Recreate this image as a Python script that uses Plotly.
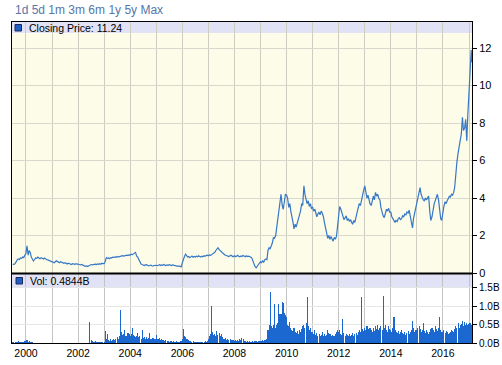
import plotly.graph_objects as go
import pandas as pd

# ---- data: semi-monthly closing prices (1st / 15th of each month) ----
price_1999 = [0.48, 0.45, 0.50, 0.62, 0.70, 0.75, 0.72, 0.80, 0.78, 0.85, 0.82, 0.95]
price_2000 = [1.05, 1.45, 0.95, 1.20, 1.10, 0.85, 0.70, 0.64, 0.72, 0.80, 0.78, 0.85, 0.80, 0.76, 0.82, 0.78, 0.75, 0.80, 0.74, 0.72, 0.70, 0.68, 0.66, 0.62]
price_2001 = [0.62, 0.58, 0.55, 0.60, 0.65, 0.62, 0.58, 0.55, 0.60, 0.57, 0.55, 0.52, 0.55, 0.50, 0.48, 0.52, 0.50, 0.47, 0.45, 0.50, 0.48, 0.46, 0.50, 0.47]
price_2002 = [0.48, 0.45, 0.43, 0.46, 0.42, 0.40, 0.38, 0.36, 0.38, 0.35, 0.40, 0.42, 0.45, 0.43, 0.46, 0.44, 0.47, 0.45, 0.48, 0.46, 0.50, 0.47, 0.52, 0.50]
price_2003 = [0.50, 0.62, 0.82, 0.78, 0.80, 0.76, 0.82, 0.80, 0.85, 0.83, 0.86, 0.84, 0.88, 0.85, 0.87, 0.90, 0.88, 0.92, 0.90, 0.93, 0.92, 0.95, 0.93, 0.97]
price_2004 = [0.96, 1.00, 0.98, 1.02, 1.05, 1.10, 0.90, 0.85, 0.72, 0.58, 0.48, 0.45, 0.42, 0.40, 0.43, 0.44, 0.41, 0.38, 0.40, 0.42, 0.39, 0.37, 0.40, 0.42]
price_2005 = [0.41, 0.39, 0.42, 0.44, 0.40, 0.43, 0.41, 0.45, 0.42, 0.40, 0.43, 0.41, 0.44, 0.42, 0.40, 0.43, 0.41, 0.38, 0.40, 0.37, 0.35, 0.38, 0.34, 0.32]
price_2006 = [0.55, 0.78, 0.90, 1.00, 0.92, 0.85, 0.88, 0.82, 0.86, 0.90, 0.84, 0.88, 0.85, 0.90, 0.87, 0.92, 0.88, 0.85, 0.90, 0.87, 0.92, 0.89, 0.93, 0.95]
price_2007 = [0.92, 0.96, 0.94, 1.00, 1.02, 1.06, 1.10, 1.20, 1.30, 1.35, 1.25, 1.20, 1.15, 1.05, 1.00, 0.98, 0.95, 0.92, 0.93, 0.88, 0.92, 0.95, 0.90, 0.87]
price_2008 = [0.92, 0.88, 0.90, 0.94, 0.89, 0.86, 0.91, 0.88, 0.93, 0.90, 0.87, 0.92, 0.88, 0.90, 0.88, 0.85, 0.80, 0.62, 0.45, 0.35, 0.28, 0.38, 0.45, 0.52]
price_2009 = [0.60, 0.55, 0.65, 0.58, 0.70, 0.75, 0.72, 1.20, 1.35, 1.30, 1.45, 1.60, 1.90, 1.85, 2.00, 2.40, 2.90, 3.30, 4.00, 4.20, 3.60, 3.40, 3.80, 4.20]
price_2010 = [4.15, 4.00, 3.50, 3.70, 3.30, 2.90, 2.70, 2.35, 2.60, 2.45, 2.75, 2.95, 3.10, 3.30, 3.70, 3.60, 4.65, 4.20, 3.90, 3.70, 3.85, 3.55, 3.70, 3.45]
price_2011 = [3.50, 3.30, 3.40, 3.20, 3.00, 3.15, 3.25, 3.10, 3.30, 3.20, 3.00, 2.70, 2.40, 2.10, 1.85, 2.00, 1.80, 1.95, 1.75, 1.70, 1.90, 1.80, 1.95, 2.40]
price_2012 = [2.90, 3.55, 3.40, 3.20, 3.00, 2.85, 2.95, 3.05, 2.80, 2.90, 2.75, 2.85, 2.70, 2.60, 2.80, 2.70, 3.00, 3.20, 3.50, 3.70, 3.60, 3.90, 4.20, 4.40]
price_2013 = [4.65, 4.30, 4.00, 4.15, 3.90, 3.70, 3.60, 3.85, 4.10, 3.90, 4.30, 4.10, 4.20, 4.00, 3.90, 3.50, 3.20, 3.05, 2.95, 3.20, 3.40, 3.30, 3.45, 3.25]
price_2014 = [3.25, 3.00, 2.85, 2.75, 2.70, 2.80, 2.75, 2.90, 2.95, 2.85, 2.90, 3.05, 3.00, 3.15, 3.10, 3.25, 3.20, 3.35, 3.00, 2.80, 2.40, 2.90, 3.20, 3.40]
price_2015 = [3.60, 3.90, 4.30, 4.55, 4.20, 4.00, 3.90, 3.85, 4.00, 3.90, 4.05, 4.10, 3.30, 2.80, 3.00, 3.40, 3.70, 3.85, 4.00, 4.20, 3.90, 3.40, 2.90, 2.80]
price_2016 = [3.30, 3.55, 3.80, 3.70, 3.85, 4.00, 4.10, 4.05, 4.20, 4.15, 4.30, 4.60, 5.45, 5.90, 6.40, 6.85, 7.10, 7.40, 8.30, 7.60, 7.75, 8.20, 7.05, 8.40]
price_2017 = [9.60, 10.50, 11.90, 11.24]

# ---- data: volume (billions), same dates ----
vol_1999 = [0.03, 0.02, 0.04, 0.03, 0.02, 0.05, 0.03, 0.04, 0.02, 0.03, 0.04, 0.06]
vol_2000 = [0.05, 0.08, 0.04, 0.05, 0.03, 0.04, 0.02, 0.01, 0.01, 0.0, 0.01, 0.0, 0.01, 0.0, 0.0, 0.01, 0.0, 0.0, 0.01, 0.0, 0.0, 0.0, 0.01, 0.0]
vol_2001 = [0.0, 0.01, 0.0, 0.0, 0.0, 0.01, 0.0, 0.0, 0.0, 0.0, 0.01, 0.0, 0.0, 0.0, 0.0, 0.0, 0.0, 0.01, 0.0, 0.0, 0.0, 0.0, 0.0, 0.0]
vol_2002 = [0.0, 0.0, 0.0, 0.0, 0.0, 0.0, 0.0, 0.0, 0.0, 0.0, 0.01, 0.58, 0.08, 0.05, 0.04, 0.03, 0.05, 0.03, 0.04, 0.02, 0.03, 0.04, 0.03, 0.02]
vol_2003 = [0.03, 0.34, 0.10, 0.25, 0.08, 0.06, 0.10, 0.05, 0.08, 0.12, 0.09, 0.10, 0.15, 0.12, 0.18, 0.90, 0.30, 0.22, 0.25, 0.35, 0.20, 0.18, 0.28, 0.25]
vol_2004 = [0.20, 0.25, 0.40, 0.22, 0.18, 0.15, 0.20, 0.27, 0.15, 0.18, 0.12, 0.35, 0.14, 0.16, 0.12, 0.15, 0.10, 0.13, 0.27, 0.12, 0.10, 0.14, 0.12, 0.10]
vol_2005 = [0.22, 0.12, 0.10, 0.13, 0.08, 0.10, 0.07, 0.09, 0.06, 0.08, 0.05, 0.06, 0.04, 0.05, 0.06, 0.04, 0.05, 0.03, 0.04, 0.05, 0.03, 0.04, 0.05, 0.06]
vol_2006 = [0.10, 0.38, 0.20, 0.15, 0.12, 0.10, 0.08, 0.06, 0.05, 0.04, 0.05, 0.03, 0.04, 0.03, 0.03, 0.04, 0.03, 0.02, 0.03, 0.04, 0.03, 0.05, 0.04, 0.05]
vol_2007 = [0.10, 0.18, 0.25, 1.02, 0.30, 0.22, 0.25, 0.20, 0.32, 0.22, 0.28, 0.18, 0.24, 0.16, 0.12, 0.10, 0.14, 0.09, 0.12, 0.08, 0.10, 0.07, 0.09, 0.08]
vol_2008 = [0.06, 0.08, 0.05, 0.07, 0.06, 0.12, 0.08, 0.14, 0.10, 0.06, 0.05, 0.04, 0.05, 0.04, 0.06, 0.04, 0.03, 0.05, 0.04, 0.06, 0.05, 0.04, 0.06, 0.05]
vol_2009 = [0.06, 0.05, 0.07, 0.06, 0.08, 0.07, 0.10, 0.35, 0.50, 1.38, 0.45, 0.40, 0.48, 1.05, 0.42, 0.50, 0.55, 1.05, 0.80, 0.78, 1.12, 1.08, 0.82, 0.75]
vol_2010 = [0.70, 0.50, 0.45, 0.58, 0.40, 0.35, 0.32, 0.40, 0.30, 0.28, 0.32, 0.25, 0.35, 0.30, 0.38, 0.45, 0.50, 0.42, 0.55, 1.25, 0.45, 0.35, 0.40, 0.30]
vol_2011 = [0.30, 0.25, 0.35, 0.22, 0.28, 0.20, 0.25, 0.18, 0.22, 0.30, 0.20, 0.25, 0.18, 0.22, 0.35, 0.28, 0.25, 0.20, 0.22, 0.18, 0.20, 0.25, 0.30, 0.35]
vol_2012 = [0.30, 0.35, 0.25, 0.22, 0.65, 0.28, 0.20, 0.25, 0.22, 0.18, 0.25, 0.20, 0.22, 0.26, 0.20, 0.24, 0.28, 0.22, 0.30, 0.35, 0.30, 1.25, 0.38, 0.32]
vol_2013 = [0.40, 0.35, 0.45, 0.30, 0.38, 0.42, 0.35, 0.30, 0.40, 0.33, 0.45, 0.38, 0.50, 0.35, 0.40, 0.45, 0.35, 1.27, 0.40, 0.50, 0.35, 0.30, 0.45, 0.38]
vol_2014 = [0.35, 0.30, 0.40, 0.70, 0.35, 0.30, 0.28, 0.32, 0.25, 0.30, 0.35, 0.28, 0.25, 0.30, 0.22, 0.28, 0.32, 0.25, 0.30, 0.35, 0.60, 0.40, 0.30, 0.35]
vol_2015 = [0.35, 0.40, 0.45, 0.38, 0.30, 0.35, 0.55, 0.32, 0.28, 0.35, 0.30, 0.25, 0.30, 0.38, 0.42, 0.35, 0.30, 0.45, 0.38, 0.32, 0.40, 0.70, 0.35, 0.30]
vol_2016 = [0.30, 0.35, 0.28, 0.32, 0.30, 0.25, 0.28, 0.30, 0.35, 0.32, 0.30, 0.38, 0.45, 0.40, 0.55, 0.42, 0.48, 0.52, 0.60, 0.45, 0.58, 0.50, 0.55, 0.48]
vol_2017 = [0.52, 0.55, 0.48, 0.4844]

price = (price_1999 + price_2000 + price_2001 + price_2002 + price_2003 + price_2004 +
         price_2005 + price_2006 + price_2007 + price_2008 + price_2009 + price_2010 +
         price_2011 + price_2012 + price_2013 + price_2014 + price_2015 + price_2016 + price_2017)
volume = (vol_1999 + vol_2000 + vol_2001 + vol_2002 + vol_2003 + vol_2004 + vol_2005 +
          vol_2006 + vol_2007 + vol_2008 + vol_2009 + vol_2010 + vol_2011 + vol_2012 +
          vol_2013 + vol_2014 + vol_2015 + vol_2016 + vol_2017)
dates = list(pd.date_range("1999-07-01", "2017-02-01", freq="SMS").strftime("%Y-%m-%d")) + ["2017-02-10"]

year_ticks = [f"{y}-01-01" for y in range(2000, 2018)]
year_labels = [str(y) if y % 2 == 0 else "" for y in range(2000, 2018)]
price_ticks = [0, 2, 4, 6, 8, 10, 12]
vol_ticks = [0, 0.5, 1.0, 1.5]
vol_labels = ["0.0B", "0.5B", "1.0B", "1.5B"]
range_buttons_text = "1d 5d 1m 3m 6m 1y 5y Max"
price_label = "Closing Price: 11.24"
vol_label = "Vol: 0.4844B"

W, H = 502, 365
L, R, T, B = 12, 472, 22, 343

def fx(px):
    return (px - L) / (R - L)

def fy(py):
    return (B - py) / (B - T)

FONT = "Liberation Sans, Arial, sans-serif"
LINE_BLUE = "#3677c6"
BAR_BLUE = "#1a68d0"
LAV = "#e2e2f6"
CREAM = "#fcfce8"

fig = go.Figure()
fig.add_trace(go.Scatter(x=dates, y=price, mode="lines",
                         line=dict(color=LINE_BLUE, width=1.2),
                         xaxis="x", yaxis="y", hoverinfo="skip"))
fig.add_trace(go.Bar(x=dates, y=volume, width=15 * 86400000,
                     marker=dict(color=BAR_BLUE, line=dict(width=0)),
                     xaxis="x2", yaxis="y2", hoverinfo="skip"))

xr = ["1999-06-19", "2017-02-12"]
fig.update_layout(
    width=W, height=H,
    margin=dict(l=L, r=W - R, t=T, b=H - B, autoexpand=False),
    paper_bgcolor="white", plot_bgcolor="rgba(0,0,0,0)",
    showlegend=False, bargap=0,
    font=dict(family=FONT, size=11, color="black"),
    xaxis=dict(domain=[0, 1], anchor="y", range=xr, type="date", automargin=False,
               tickvals=year_ticks, ticktext=year_labels, showticklabels=False,
               showgrid=True, gridcolor="#cdcdc2", gridwidth=1, ticks="",
               showline=True, linecolor="black", linewidth=1, mirror=True, zeroline=False),
    yaxis=dict(domain=[fy(273), 1], anchor="x", side="right", range=[0, 13.39], automargin=False,
               tickvals=price_ticks, ticks="outside", ticklen=4, tickcolor="black",
               tickfont=dict(size=11), showgrid=True, gridcolor="#d8d8cc", gridwidth=1,
               showline=True, linecolor="black", linewidth=1, mirror=True, zeroline=False),
    xaxis2=dict(domain=[0, 1], anchor="y2", range=xr, type="date", matches="x", automargin=False,
                tickvals=year_ticks, ticktext=year_labels, tickfont=dict(size=10.5),
                showgrid=True, gridcolor="#c4c4c4", gridwidth=1, ticks="",
                showline=True, linecolor="black", linewidth=1, mirror=True, zeroline=False),
    yaxis2=dict(domain=[0, fy(274)], anchor="x2", side="right", range=[0, 1.88], automargin=False,
                tickvals=vol_ticks, ticktext=vol_labels, ticks="outside", ticklen=4,
                tickcolor="black", tickfont=dict(size=10), showgrid=True,
                gridcolor="#e6e6e6", gridwidth=1,
                showline=True, linecolor="black", linewidth=1, mirror=True, zeroline=False),
)

shapes = [
    dict(type="rect", xref="paper", yref="paper", x0=0, x1=1, y0=fy(273), y1=1,
         fillcolor=CREAM, line=dict(width=0), layer="below"),
    dict(type="rect", xref="paper", yref="paper", x0=0, x1=1, y0=fy(33), y1=1,
         fillcolor=LAV, line=dict(width=0), layer="below"),
    dict(type="rect", xref="paper", yref="paper", x0=0, x1=1, y0=fy(287), y1=fy(274),
         fillcolor=LAV, line=dict(width=0), layer="below"),
    dict(type="line", xref="paper", yref="paper", x0=0, x1=1, y0=fy(273.5), y1=fy(273.5),
         line=dict(color="black", width=2)),
    dict(type="rect", xref="paper", yref="paper", x0=fx(15), x1=fx(21.5), y0=fy(31), y1=fy(24.5),
         fillcolor="#1f5fc4", line=dict(color="#1a2a60", width=1)),
    dict(type="rect", xref="paper", yref="paper", x0=fx(16), x1=fx(22.5), y0=fy(284), y1=fy(277.5),
         fillcolor="#1f5fc4", line=dict(color="#1a2a60", width=1)),
]
fig.update_layout(shapes=shapes)

fig.add_annotation(x=fx(13), y=fy(10), xref="paper", yref="paper", text=range_buttons_text,
                   showarrow=False, xanchor="left", yanchor="middle",
                   font=dict(family=FONT, size=12, color="#5577aa"))
fig.add_annotation(x=fx(27), y=fy(27.8), xref="paper", yref="paper", text=price_label,
                   showarrow=False, xanchor="left", yanchor="middle",
                   font=dict(family=FONT, size=10.5, color="black"))
fig.add_annotation(x=fx(27.5), y=fy(281), xref="paper", yref="paper", text=vol_label,
                   showarrow=False, xanchor="left", yanchor="middle",
                   font=dict(family=FONT, size=10.5, color="black"))

# remove the browser's default 8px page margin so the 502x365 figure fills the window exactly
fig.write_html("out.html",
               config={"displayModeBar": False, "staticPlot": True},
               post_script="document.body.style.margin='0';"
                           "document.documentElement.style.overflow='hidden';")
